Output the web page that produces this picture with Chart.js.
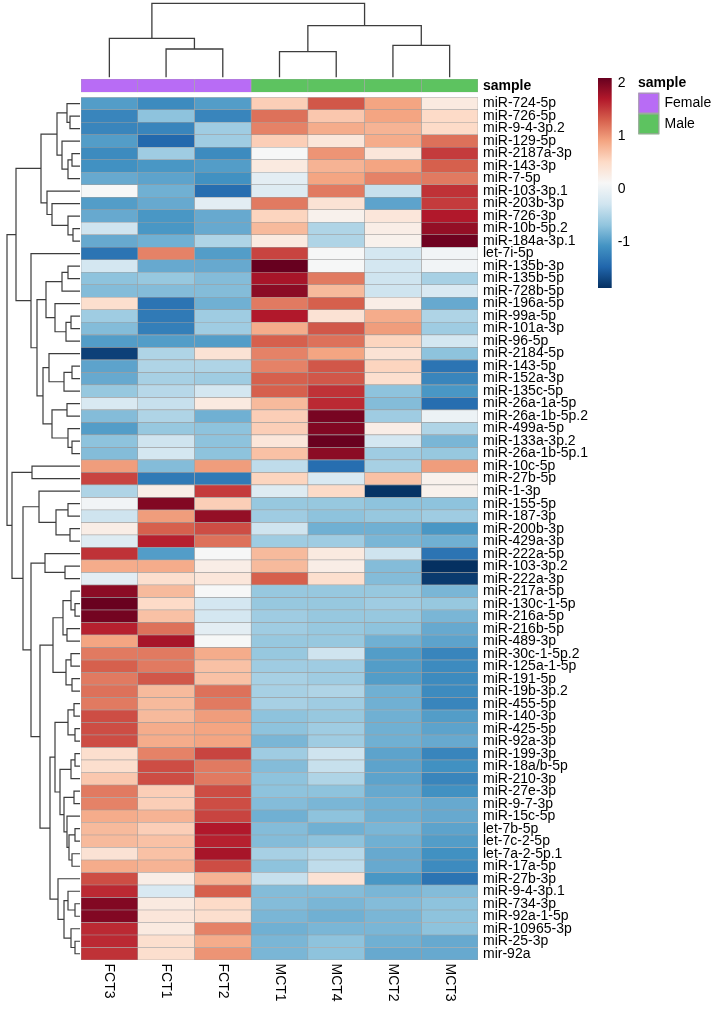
<!DOCTYPE html>
<html><head><meta charset="utf-8">
<script src="https://cdn.jsdelivr.net/npm/chart.js@4.4.1/dist/chart.umd.min.js"></script>
<style>
html,body{margin:0;padding:0;background:#fff;}
#wrap{position:relative;width:714px;height:1015px;overflow:hidden;background:#fff;}
#wrap canvas{position:absolute;left:0;top:0;}
</style></head><body>
<div id="wrap">
<canvas id="cTop" width="714" height="1015"></canvas>
<canvas id="cLeft" width="714" height="1015"></canvas>
<canvas id="cAnn" width="714" height="1015"></canvas>
<canvas id="cHeat" width="714" height="1015"></canvas>
<canvas id="cLeg" width="714" height="1015"></canvas>
</div>
<script>
const FONT = '"Liberation Sans", Arial, sans-serif';

const colLabels = ['FCT3','FCT1','FCT2','MCT1','MCT4','MCT2','MCT3'];
const colGroup  = ['Female','Female','Female','Male','Male','Male','Male'];
const groupNames = ['Female','Male'];
const groupColors = {Female:'#b86cf5', Male:'#5dc360'};

const rowLabels = ['miR-724-5p','miR-726-5p','miR-9-4-3p.2','miR-129-5p','miR-2187a-3p','miR-143-3p','miR-7-5p',
'miR-103-3p.1','miR-203b-3p','miR-726-3p','miR-10b-5p.2','miR-184a-3p.1','let-7i-5p','miR-135b-3p','miR-135b-5p',
'miR-728b-5p','miR-196a-5p','miR-99a-5p','miR-101a-3p','miR-96-5p','miR-2184-5p','miR-143-5p','miR-152a-3p',
'miR-135c-5p','miR-26a-1a-5p','miR-26a-1b-5p.2','miR-499a-5p','miR-133a-3p.2','miR-26a-1b-5p.1','miR-10c-5p',
'miR-27b-5p','miR-1-3p','miR-155-5p','miR-187-3p','miR-200b-3p','miR-429a-3p','miR-222a-5p','miR-103-3p.2',
'miR-222a-3p','miR-217a-5p','miR-130c-1-5p','miR-216a-5p','miR-216b-5p','miR-489-3p','miR-30c-1-5p.2',
'miR-125a-1-5p','miR-191-5p','miR-19b-3p.2','miR-455-5p','miR-140-3p','miR-425-5p','miR-92a-3p','miR-199-3p',
'miR-18a/b-5p','miR-210-3p','miR-27e-3p','miR-9-7-3p','miR-15c-5p','let-7b-5p','let-7c-2-5p','let-7a-2-5p.1',
'miR-17a-5p','miR-27b-3p','miR-9-4-3p.1','miR-734-3p','miR-92a-1-5p','miR-10965-3p','miR-25-3p','mir-92a'];

const FCT3 = [-1.0,-1.2,-1.2,-1.0,-1.15,-1.1,-0.9,0.1,-1.0,-0.9,-0.3,-0.9,-1.35,-0.25,-0.7,-0.75,0.45,-0.6,-0.75,-1.0,
-1.75,-0.95,-0.9,-0.65,-0.2,-0.75,-1.0,-0.7,-0.75,0.95,1.45,-0.5,0.05,-0.3,0.25,-0.15,1.55,0.85,-0.1,1.9,
2.08,2.02,1.65,0.9,1.15,1.3,1.15,1.2,1.15,1.4,1.4,1.4,0.45,0.45,0.65,1.15,1.1,0.85,0.75,0.75,
0.4,0.85,1.4,1.6,1.95,1.95,1.6,1.6,1.55];
const FCT1 = [-1.15,-0.7,-1.2,-1.45,-0.6,-1.05,-0.95,-0.85,-0.9,-1.05,-1.05,-0.85,1.1,-0.9,-0.65,-0.75,-1.35,-1.3,-1.25,-1.0,
-0.5,-0.5,-0.55,-0.45,-0.35,-0.5,-0.65,-0.3,-0.25,-0.75,-1.3,0.25,1.95,0.95,1.3,1.65,-1.0,0.85,0.45,0.75,
0.5,0.7,1.2,1.75,1.15,1.15,1.35,0.75,0.75,0.75,0.85,0.85,1.1,1.4,1.4,0.6,0.6,0.8,0.6,0.7,
0.7,0.8,0.25,-0.2,0.3,0.35,0.3,0.45,0.45];
const FCT2 = [-1.0,-1.2,-0.6,-0.6,-1.15,-1.0,-1.1,-1.4,-0.1,-0.9,-0.9,-0.5,-1.0,-0.9,-0.75,-0.75,-0.85,-0.6,-0.6,-1.0,
0.4,-0.5,-0.6,-0.25,0.3,-0.85,-0.7,-0.7,-0.7,0.95,-1.3,1.5,0.6,1.85,1.4,1.2,0.1,0.25,0.35,0.1,
-0.25,-0.25,-0.1,0.1,0.85,0.7,0.7,1.2,1.15,0.95,0.9,0.9,1.45,1.15,1.15,1.4,1.4,1.45,1.7,1.65,
1.75,1.4,0.8,1.3,0.5,0.45,1.1,0.85,1.0];
const MCT1 = [0.6,1.2,1.1,0.6,0.1,0.3,-0.1,-0.15,1.15,0.55,0.75,0.3,1.45,2.09,1.75,1.9,1.15,1.7,0.85,1.3,
1.1,1.1,1.3,1.3,0.75,0.6,0.6,0.35,0.7,-0.4,0.55,-0.15,-0.65,-0.6,-0.3,-0.6,0.75,0.75,1.3,-0.65,
-0.65,-0.6,-0.6,-0.65,-0.65,-0.6,-0.55,-0.55,-0.55,-0.7,-0.7,-0.8,-0.6,-0.75,-0.7,-0.7,-0.75,-0.85,-0.75,-0.75,
-0.55,-0.7,-0.35,-0.75,-0.75,-0.8,-0.85,-0.8,-0.8];
const MCT4 = [1.35,0.65,0.85,0.35,1.0,0.8,0.9,1.15,0.4,0.2,-0.5,-0.5,0.1,0.1,1.15,0.75,1.3,0.4,1.35,1.2,
0.9,1.35,1.35,1.55,1.6,2.0,1.95,2.08,1.9,-1.4,-0.2,0.5,-0.65,-0.7,-0.85,-0.6,0.3,0.25,0.45,-0.65,
-0.65,-0.65,-0.65,-0.65,-0.3,-0.6,-0.6,-0.5,-0.6,-0.65,-0.6,-0.6,-0.3,-0.35,-0.5,-0.7,-0.8,-0.7,-0.85,-0.7,
-0.45,-0.4,0.4,-0.75,-0.8,-0.85,-0.8,-0.7,-0.7];
const MCT2 = [0.9,0.9,0.8,0.85,0.35,0.9,1.1,-0.35,-0.95,0.35,0.25,0.2,-0.25,-0.25,-0.3,-0.3,0.25,0.85,0.95,0.55,
0.4,0.55,0.45,-0.7,-0.75,-0.6,0.25,-0.25,-0.6,-0.55,0.7,-1.85,-0.7,-0.65,-0.85,-0.8,-0.3,-0.75,-0.75,-0.65,
-0.6,-0.65,-0.7,-0.85,-1.0,-1.0,-1.0,-0.85,-0.85,-0.85,-0.85,-0.85,-0.95,-0.95,-0.95,-0.9,-0.85,-0.85,-0.8,-0.85,
-0.9,-0.9,-1.05,-0.8,-0.75,-0.8,-0.8,-0.85,-0.9];
const MCT3 = [0.3,0.5,0.5,1.2,1.5,1.3,1.15,1.55,1.5,1.7,1.85,2.05,0.05,0.05,-0.55,-0.2,-0.9,-0.5,-0.6,-0.25,
-0.7,-1.35,-1.2,-1.05,-1.4,0.0,-0.5,-0.8,-0.65,0.95,0.2,0.2,-0.7,-0.6,-1.05,-0.85,-1.35,-1.87,-1.8,-0.8,
-0.65,-0.8,-0.9,-0.95,-1.2,-1.15,-1.15,-1.15,-1.2,-1.0,-0.95,-0.9,-1.2,-1.1,-1.2,-1.1,-0.9,-0.9,-0.95,-1.0,
-1.1,-1.15,-1.35,-0.75,-0.7,-0.7,-0.7,-0.9,-0.9];
const colValues = [FCT3, FCT1, FCT2, MCT1, MCT4, MCT2, MCT3];

// colour scale range and legend ticks
const scaleRange = [-1.87, 2.09];
const legendTicks = [-1, 0, 1, 2];
const palette = ['#053061','#2166ac','#4393c3','#92c5de','#d1e5f0','#f7f7f7','#fddbc7','#f4a582','#d6604d','#b2182b','#67001f'];

// column dendrogram: [left, right, height]
const colTree = [[0,[1,2,28.3],39],[[3,4,25.6],[5,6,32],51.6],74];

// row dendrogram (1-based leaf rows): [left, right, height]
const rowTree = [
 [ [ [[1,[2,3,10],13],[4,[[5,6,8],7,12],18],23], [8,[9,[10,[11,12,7],12],28],33], 39 ],
   [13, [ [[[14,15,12],16,18],[17,[[18,19,9],20,14],25],34],
          [[21,[[22,23,8],24,16],31],[[25,26,13],[27,[28,29,8],12],28],37], 43], 49],
   64],
 [ [30,31,48],
   [ [32,[[33,34,12],[35,36,10],24],41],
     [ [37,[38,39,15],35],
       [ [[[40,[41,42,5],9],[43,44,13],17],[[45,46,9],[47,48,8],14],27],
         [ [[[49,50,6],[51,52,5],12],[[[53,54,5],55,9],[[56,57,6],[58,[[59,60,5],[61,62,8],11],13],16],20],25],
           [63,[[64,[65,66,5],12],[67,[68,69,5],9],16],22], 30], 40], 49], 57],
   68],
 73];

function hexToRgb(h){return [parseInt(h.slice(1,3),16),parseInt(h.slice(3,5),16),parseInt(h.slice(5,7),16)];}
const palRgb = palette.map(hexToRgb);
function colorFor(v){
  let t = (v - scaleRange[0])/(scaleRange[1]-scaleRange[0]);
  t = Math.max(0, Math.min(1, t));
  const f = t*(palRgb.length-1);
  const i = Math.min(palRgb.length-2, Math.floor(f));
  const u = f - i;
  const a = palRgb[i], b = palRgb[i+1];
  return 'rgb(' + [0,1,2].map(k => Math.round(a[k]+(b[k]-a[k])*u)).join(',') + ')';
}

function buildSegs(tree, leafPos){
  const segs = [];
  function walk(n){
    if (typeof n === 'number') return {p: leafPos(n), h: 0};
    const a = walk(n[0]), b = walk(n[1]), h = n[2];
    segs.push([{p:a.p,h:a.h},{p:a.p,h:h},{p:b.p,h:h},{p:b.p,h:b.h}]);
    return {p:(a.p+b.p)/2, h:h};
  }
  walk(tree);
  return segs;
}

const LINE = '#3d3d3d';
const base = {responsive:false, animation:false, events:[],
  plugins:{legend:{display:false}, tooltip:{enabled:false}}};

// top (column) dendrogram
new Chart(document.getElementById('cTop'), {
  type:'scatter',
  data:{datasets: buildSegs(colTree, c => c + 0.5).map(s => ({
    data: s.map(q => ({x:q.p, y:q.h})), showLine:true, pointRadius:0,
    borderColor:LINE, borderWidth:1.3, clip:false, tension:0}))},
  options:Object.assign({}, base, {
    layout:{padding:{left:81, right:236, top:3.3, bottom:937.7}},
    scales:{x:{type:'linear', min:0, max:7, display:false},
            y:{type:'linear', min:0, max:74, display:false}}
  })
});

// left (row) dendrogram
new Chart(document.getElementById('cLeft'), {
  type:'scatter',
  data:{datasets: buildSegs(rowTree, r => r - 0.5).map(s => ({
    data: s.map(q => ({x:q.h, y:q.p})), showLine:true, pointRadius:0,
    borderColor:LINE, borderWidth:1.2, clip:false, tension:0}))},
  options:Object.assign({}, base, {
    layout:{padding:{left:7, right:634, top:97.3, bottom:55}},
    scales:{x:{type:'linear', min:0, max:73, reverse:true, display:false},
            y:{type:'linear', min:0, max:69, reverse:true, display:false}}
  })
});

// annotation bar
new Chart(document.getElementById('cAnn'), {
  type:'bar',
  data:{labels:['sample'], datasets: colLabels.map((n, c) => ({
    data:[[c, c+1]], backgroundColor: groupColors[colGroup[c]],
    borderColor:'#a3a3a3', borderWidth:0.6, borderSkipped:false,
    grouped:false, barPercentage:1, categoryPercentage:1}))},
  options:Object.assign({}, base, {
    indexAxis:'y',
    layout:{padding:{left:81, right:36, top:79, bottom:922.7}},
    scales:{
      x:{type:'linear', min:0, max:7, display:false},
      y:{type:'category', position:'right', grid:{display:false, drawTicks:false}, border:{display:false},
         ticks:{padding:5, color:'#000', font:{family:FONT, size:14, weight:'bold'}},
         afterFit: s => { s.width = 200; }}
    }
  })
});

// heatmap
const colLabelPlugin = {
  id:'colLabels',
  afterDraw(chart){
    const ctx = chart.ctx, xs = chart.scales.x, bottom = chart.chartArea.bottom;
    ctx.save();
    ctx.fillStyle = '#000';
    ctx.font = '14px ' + FONT;
    ctx.textAlign = 'left'; ctx.textBaseline = 'middle';
    colLabels.forEach((n, c) => {
      ctx.save();
      ctx.translate(xs.getPixelForValue(c + 0.5), bottom + 3.5);
      ctx.rotate(Math.PI/2);
      ctx.fillText(n, 0, 0);
      ctx.restore();
    });
    ctx.restore();
  }
};
new Chart(document.getElementById('cHeat'), {
  type:'bar',
  data:{labels:rowLabels, datasets: colValues.map((vals, c) => ({
    label: colLabels[c],
    data: vals.map(() => [c, c+1]),
    backgroundColor: vals.map(colorFor),
    borderColor:'#9e9e9e', borderWidth:0.6, borderSkipped:false,
    grouped:false, barPercentage:1, categoryPercentage:1}))},
  options:Object.assign({}, base, {
    indexAxis:'y',
    layout:{padding:{left:81, right:36, top:97.3, bottom:55}},
    scales:{
      x:{type:'linear', min:0, max:7, display:false},
      y:{type:'category', position:'right', grid:{display:false, drawTicks:false}, border:{display:false},
         ticks:{autoSkip:false, padding:5, color:'#000', font:{family:FONT, size:14}},
         afterFit: s => { s.width = 200; }}
    }
  }),
  plugins:[colLabelPlugin]
});

// colour legend + sample legend
const sampleLegendPlugin = {
  id:'sampleLegend',
  afterDraw(chart){
    const ctx = chart.ctx;
    ctx.save();
    ctx.fillStyle = '#000';
    ctx.textAlign = 'left'; ctx.textBaseline = 'middle';
    ctx.font = 'bold 14px ' + FONT;
    ctx.fillText('sample', 638, 83);
    ctx.font = '14px ' + FONT;
    groupNames.forEach((g, i) => {
      const y = 92.7 + i*20.8;
      ctx.fillStyle = groupColors[g];
      ctx.fillRect(638.3, y, 21, 20.8);
      ctx.strokeStyle = '#a3a3a3'; ctx.lineWidth = 1;
      ctx.strokeRect(638.8, y + 0.5, 20, 19.8);
      ctx.fillStyle = '#000';
      ctx.fillText(g, 664.5, y + 10.6);
    });
    ctx.restore();
  }
};
new Chart(document.getElementById('cLeg'), {
  type:'bar',
  data:{labels:[''], datasets:[{
    data:[scaleRange.slice()],
    backgroundColor(context){
      const chart = context.chart;
      if (!chart.chartArea) return palette[5];
      const ys = chart.scales.y;
      const g = chart.ctx.createLinearGradient(0, ys.getPixelForValue(scaleRange[0]), 0, ys.getPixelForValue(scaleRange[1]));
      palette.forEach((col, i) => g.addColorStop(i/(palette.length-1), col));
      return g;
    },
    borderWidth:0, barPercentage:1, categoryPercentage:1}]},
  options:Object.assign({}, base, {
    layout:{padding:{left:598, right:2.3, top:78, bottom:727}},
    scales:{
      x:{type:'category', display:false},
      y:{type:'linear', position:'right', min:scaleRange[0], max:scaleRange[1],
         afterBuildTicks: s => { s.ticks = legendTicks.map(v => ({value:v})); },
         grid:{display:false, drawTicks:false}, border:{display:false},
         ticks:{padding:6, color:'#000', font:{family:FONT, size:14}},
         afterFit: s => { s.width = 100; }}
    }
  }),
  plugins:[sampleLegendPlugin]
});
</script>
</body></html>
